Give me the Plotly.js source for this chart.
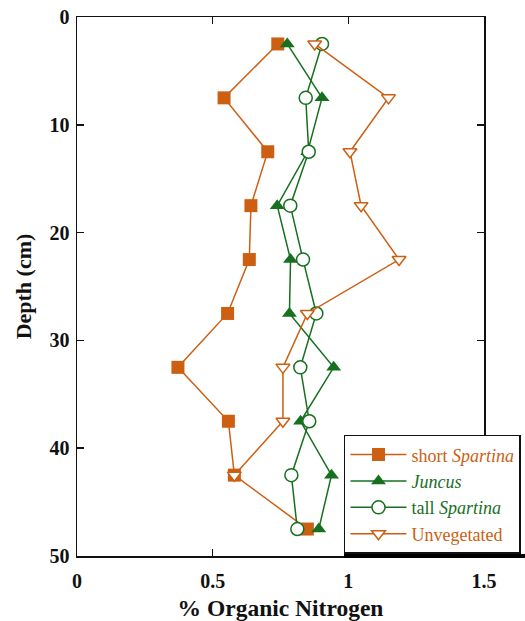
<!DOCTYPE html>
<html>
<head>
<meta charset="utf-8">
<script src="https://cdn.plot.ly/plotly-3.0.1.min.js"></script>
<style>html,body{margin:0;padding:0;background:#fff;}#chart{width:525px;height:621px;}</style>
</head>
<body>
<div id="chart"></div>
<script>
// Depth (cm) of each sample interval midpoint
const depth = [2.5, 7.5, 12.5, 17.5, 22.5, 27.5, 32.5, 37.5, 42.5, 47.5];
const depthUnveg = [2.5, 7.5, 12.5, 17.5, 22.5, 27.5, 32.5, 37.5, 42.5];
// % Organic Nitrogen
const shortSpartina = [0.740, 0.542, 0.703, 0.641, 0.635, 0.555, 0.372, 0.558, 0.580, 0.849];
const juncus        = [0.775, 0.903, 0.850, 0.738, 0.787, 0.783, 0.946, 0.824, 0.938, 0.891];
const tallSpartina  = [0.903, 0.843, 0.854, 0.786, 0.833, 0.882, 0.823, 0.856, 0.790, 0.812];
const unvegetated   = [0.876, 1.148, 1.006, 1.047, 1.187, 0.849, 0.759, 0.759, 0.580];
const seriesNames = ['short <i>Spartina</i>', '<i>Juncus</i>', 'tall <i>Spartina</i>', 'Unvegetated'];
const xTicks = [0, 0.5, 1, 1.5];
const yTicks = [0, 10, 20, 30, 40, 50];

const ORANGE = '#cc5f12';
const GREEN = '#17701f';
const LW = 1.5;
const SERIF = 'Liberation Serif';

function nm(text, color) { return '<span style="color:' + color + '">' + text + '</span>'; }

const traces = [
  { x: shortSpartina, y: depth, name: nm(seriesNames[0], ORANGE), mode: 'lines+markers',
    line: {color: ORANGE, width: LW},
    marker: {symbol: 'square', size: 13, color: ORANGE, line: {width: 0}} },
  { x: juncus, y: depth, name: nm(seriesNames[1], GREEN), mode: 'lines+markers',
    line: {color: GREEN, width: LW},
    marker: {symbol: 'triangle-up', size: 13, color: GREEN, line: {width: 0}} },
  { x: tallSpartina, y: depth, name: nm(seriesNames[2], GREEN), mode: 'lines+markers',
    line: {color: GREEN, width: LW},
    marker: {symbol: 'circle', size: 13, color: '#ffffff', line: {color: GREEN, width: 1.5}} },
  { x: unvegetated, y: depthUnveg, name: nm(seriesNames[3], ORANGE), mode: 'lines+markers',
    line: {color: ORANGE, width: LW},
    marker: {symbol: 'triangle-down', size: 12, color: '#ffffff', line: {color: ORANGE, width: 1.5}} }
];

const tickFont = {family: SERIF, size: 20, color: '#111', weight: 'bold'};

const layout = {
  width: 525, height: 621,
  margin: {l: 77, r: 41, t: 17, b: 65, autoexpand: false},
  paper_bgcolor: '#fff', plot_bgcolor: '#fff',
  font: {family: SERIF},
  showlegend: true,
  xaxis: {
    range: [0, 1.5], tickvals: xTicks, ticktext: xTicks.map(String),
    ticks: 'inside', ticklen: 7, tickwidth: 1.5, tickcolor: '#111',
    showline: true, linecolor: '#111', linewidth: 1.5, mirror: 'ticks',
    showgrid: false, zeroline: false, tickfont: tickFont, ticklabelstandoff: 6,
    automargin: true,
    title: {text: '% Organic Nitrogen', font: {family: SERIF, size: 23.5, color: '#111', weight: 'bold'}, standoff: 20}
  },
  yaxis: {
    range: [50, 0], tickvals: yTicks, ticktext: yTicks.map(String),
    ticks: 'inside', ticklen: 7, tickwidth: 1.5, tickcolor: '#111',
    showline: true, linecolor: '#111', linewidth: 1.5, mirror: 'ticks',
    showgrid: false, zeroline: false, tickfont: tickFont, ticklabelstandoff: 2,
    automargin: true,
    title: {text: 'Depth (cm)', font: {family: SERIF, size: 22, color: '#111', weight: 'bold'}, standoff: 12}
  },
  legend: {
    x: 0.656, xanchor: 'left', y: 0.004, yanchor: 'bottom',
    bgcolor: '#fff', bordercolor: '#111', borderwidth: 1.5,
    font: {family: SERIF, size: 18, color: '#111'},
    itemwidth: 56, tracegroupgap: 0
  },
  shapes: [
    {type: 'line', xref: 'paper', yref: 'paper', x0: 0.656, x1: 1.2, y0: 0, y1: 0,
     line: {color: '#000', width: 4}, layer: 'above'}
  ]
};

Plotly.newPlot('chart', traces, layout, {displayModeBar: false, staticPlot: true});
</script>
</body>
</html>
